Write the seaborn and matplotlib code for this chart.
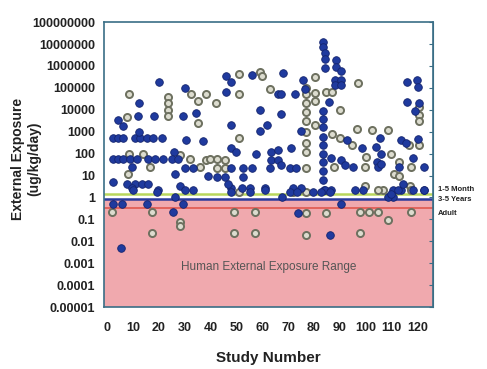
import numpy as np
import pandas as pd
import matplotlib
matplotlib.use("Agg")
import matplotlib.pyplot as plt
import seaborn as sns

# ---------------- data ----------------
# filled (blue) studies: study number / exposure (ug/kg/day)
blue_study = [
    20, 12.5, 30, 4.4, 12, 6.3, 18.3, 29.2, 34.4,
    2.4, 4.3, 6.3, 10.8, 12.7, 15.3, 17.9, 21.1,
    12.5, 30.5, 37.2, 25.9,
    2.4, 4.3, 6.3, 8.9, 11.4, 15.9, 18.5, 21.7, 25, 27.5,
    9.5, 30, 33.3, 39, 26.3,
    2.4, 7.6, 10.8, 13.4, 15.9, 9.7, 19.8, 28.2, 30, 33.3,
    9.9, 19.4, 26.3,
    2.4, 5.7, 15.3, 25.4, 29.2, 5.3,
    45.9, 48, 68, 45.9, 66, 67.4, 72.6, 59, 67.4, 48, 59, 61.7,
    48, 57.8, 63.6, 66, 71.3, 75, 50, 63.6, 66, 67.4,
    48, 52.6, 55.9, 62.9, 70.7, 73.2, 42.4, 45.6, 52.6,
    48, 52, 55.2, 61, 71.9, 75,
    46.8, 48, 55.2, 61, 67.8, 70.7, 73.5, 79.6, 73.9,
    56, 75.8, 76.4,
    83.5, 83.5, 84.2, 84.5, 84.2, 88.7, 88.7, 88, 88, 90.6, 90.6, 90.6, 85.8,
    83.5, 83.5, 83.5, 83.5, 83.5, 83.5, 83.5, 83.5, 83.5, 84,
    92.8, 98.7, 105.7, 104, 106, 104.5, 105, 113.7, 115.7, 113, 122.8, 118.3,
    116.2, 119.8, 120.3, 116.2, 120.5, 119, 120.2,
    86.7, 90.6, 91.9, 95.1, 106,
    84.2, 86.7, 95.8, 99, 110.5, 113.7, 118.3, 122.8, 110.5,
    82.9, 86.1, 108.6, 109.9, 112.5, 114.4, 122.8,
    90.6, 86.1,
]
blue_value = [
    1.9e5, 2e4, 1e5, 3.6e3, 5e3, 1.8e3, 5e3, 5e3, 7e3,
    500, 500, 500, 500, 500, 500, 500, 500,
    1000, 400, 380, 120,
    55, 55, 55, 55, 55, 55, 55, 55, 55, 55,
    25, 21, 21, 10, 12,
    5, 4, 4, 4, 4, 2.7, 2.1, 3.5, 2.1, 2.1,
    2.3, 1.8, 1.1,
    0.49, 0.49, 0.49, 0.22, 0.49, 0.0047,
    3.4e5, 1.9e5, 4.8e5, 6.6e4, 5e4, 5e4, 5e4, 9.5e3, 6.3e3, 2e3, 1.1e3, 2e3,
    190, 93, 120, 140, 190, 1.1e3, 120, 50, 50, 30,
    21, 21, 21, 21, 21, 21, 8.7, 8.7, 8.7,
    2.6, 2.6, 2.6, 2.6, 2.6, 2.6,
    4.3, 1.8, 1.8, 2.3, 1.0, 1.8, 1.8, 1.8, 0.19,
    3.8e5, 2.2e5, 8.5e4,
    1.2e7, 7e6, 4e6, 2e6, 8e5, 1.8e6, 9e5, 2.2e5, 1.3e5, 2.2e5, 1.3e5, 6e5, 2.3e4,
    9e3, 4e3, 1.6e3, 600, 250, 100, 40, 16, 6, 2.2,
    400, 190, 490, 200, 100, 42, 25, 400, 290, 25, 25, 60,
    1.9e5, 2.2e5, 1.1e5, 2.3e4, 2e4, 9e3, 450,
    60, 50, 30, 25, 32,
    2.1, 2.1, 2.1, 2.1, 2.1, 2.1, 2.1, 2.1, 1.0,
    1.8, 1.8, 1.05, 1.5, 2.1, 4.3, 2.3,
    0.52, 0.019,
]

# open (grey) studies
grey_study = [
    8.5, 23.4, 23.4, 23.4, 23.4, 32.3, 35.2, 38.2, 7.6, 35.2,
    8.5, 14, 28.2, 32, 16.6, 35.9, 38.2, 39.8, 8.2,
    1.8, 17.2, 28.2, 28.2, 17.2,
    51.1, 59.3, 60.1, 62.9, 51.1, 42.1, 51.1, 42.4, 45.6, 42.4, 45.6, 77.1,
    77.1, 77.1, 77.1, 77.1, 77.1, 77.1, 77.1, 77.1,
    80.3, 80.3, 80.3, 80.3,
    51.1, 72, 77,
    49, 57.1, 77.1, 49, 57.1, 77.1,
    97, 84.8, 87.1, 90, 87.1, 90, 96.6, 94.8, 102.6, 108.6, 110, 113, 111, 113,
    117, 117.6, 120.8, 120.8, 120.8, 120.5, 87.6, 100.2, 99.6, 106.9, 117.1,
    84.8, 97.7, 101.5, 104.7, 117.6, 108.6, 97.7, 99.6, 104.7, 117.6,
]
grey_value = [
    5e4, 4e4, 2e4, 1e4, 5e3, 5e4, 2.5e4, 5e4, 4.8e3, 2.5e3,
    100, 100, 85, 55, 25, 25, 50, 55, 12,
    0.22, 0.22, 0.076, 0.048, 0.024,
    4.3e5, 5.4e5, 3.4e5, 9.3e4, 5.5e4, 2.1e4, 490, 54, 50, 22, 22, 21,
    1e5, 5e4, 2e4, 8e3, 3e3, 1e3, 300, 120,
    3e5, 6e4, 2.5e4, 2e3,
    1.8, 1.8, 1.8,
    0.22, 0.22, 0.19, 0.024, 0.024, 0.019,
    1.6e5, 6.6e4, 6.6e4, 1e4, 780, 490, 1.4e3, 240, 1.2e3, 1.2e3, 100, 42, 12, 10,
    240, 25, 1.3e4, 5.6e3, 3.2e3, 240, 25, 70, 25, 2.1, 3.2,
    0.19, 0.22, 0.22, 0.22, 0.22, 0.09, 0.024, 3.2, 2.3, 2.3,
]

# reference exposure levels
level_names = ["1-5 Month", "3-5 Years", "Adult"]
level_values = [1.5, 0.83, 0.32]
level_colors = ["#b9d65c", "#2a3a9c", "#e0584e"]

y_ticks = [1e-5, 1e-4, 1e-3, 1e-2, 1e-1, 1, 10, 100, 1e3, 1e4, 1e5, 1e6, 1e7, 1e8]
y_ticklabels = ["0.00001", "0.0001", "0.001", "0.01", "0.1", "1", "10", "100",
                "1000", "10000", "100000", "1000000", "10000000", "100000000"]
x_ticks = list(range(0, 130, 10))

df = pd.concat([
    pd.DataFrame({"study": blue_study, "exposure": blue_value, "kind": "filled"}),
    pd.DataFrame({"study": grey_study, "exposure": grey_value, "kind": "open"}),
], ignore_index=True)

# ---------------- plot ----------------
sns.set_style("white")
plt.rcParams['font.family'] = ['Liberation Sans', 'DejaVu Sans']

fig = plt.figure(figsize=(4.87, 3.69), dpi=100)
ax = fig.add_axes([0.2136, 0.168, 0.675, 0.772])

ax.set_yscale("log")
ax.set_ylim(1e-5, 1e8)
ax.set_xlim(-1.2, 126)

# human range band
ax.axhspan(1e-5, level_values[1], color="#f0a9ae", zorder=0, lw=0)
ax.text(0.5, 0.14, "Human External Exposure Range", transform=ax.transAxes,
        ha="center", va="center", fontsize=8.5, color="#555555")

# level lines, labels nudged apart like the original
label_offsets = [3, 0, -4]
for name, val, col, dy in zip(level_names, level_values, level_colors, label_offsets):
    ax.axhline(val, color=col, lw=1.2 if name == "Adult" else 1.8, zorder=1)
    ax.annotate(name, xy=(1.0, val), xycoords=("axes fraction", "data"),
                xytext=(4, dy), textcoords="offset points", va="center", ha="left",
                fontsize=5.5, fontweight="bold", color="#222222", annotation_clip=False)

sns.scatterplot(data=df[df.kind == "open"], x="study", y="exposure", ax=ax,
                s=26, color="#dcdccf", edgecolor="#6d705f", linewidth=1.4, zorder=3, legend=False)
sns.scatterplot(data=df[df.kind == "filled"], x="study", y="exposure", ax=ax,
                s=30, color="#1f3a9e", edgecolor="#14246e", linewidth=0.6, zorder=4, legend=False)

ax.set_yticks(y_ticks, y_ticklabels)
ax.yaxis.set_minor_locator(matplotlib.ticker.NullLocator())
ax.set_xticks(x_ticks)
ax.tick_params(axis="both", direction="out", length=3, width=0.8, color="#3a6e86",
               labelsize=9, labelcolor="#222222")
ax.tick_params(axis="x", pad=8)
for lbl in ax.get_xticklabels() + ax.get_yticklabels():
    lbl.set_fontweight("bold")

# right side inner ticks
sec = ax.secondary_yaxis("right")
sec.set_yticks(y_ticks)
sec.yaxis.set_minor_locator(matplotlib.ticker.NullLocator())
sec.tick_params(direction="in", length=3, labelright=False, color="#3a6e86")
sec.spines["right"].set_color("#3a6e86")

for sp in ax.spines.values():
    sp.set_color("#3a6e86")
    sp.set_linewidth(1.2)

ax.set_xlabel("Study Number", fontsize=11, fontweight="bold", color="#222222", labelpad=12)
ax.set_ylabel("External Exposure\n(ug/kg/day)", fontsize=10, fontweight="bold",
              color="#222222")
ax.yaxis.set_label_coords(-0.19, 0.52)

fig.savefig("out.png", dpi=100)
